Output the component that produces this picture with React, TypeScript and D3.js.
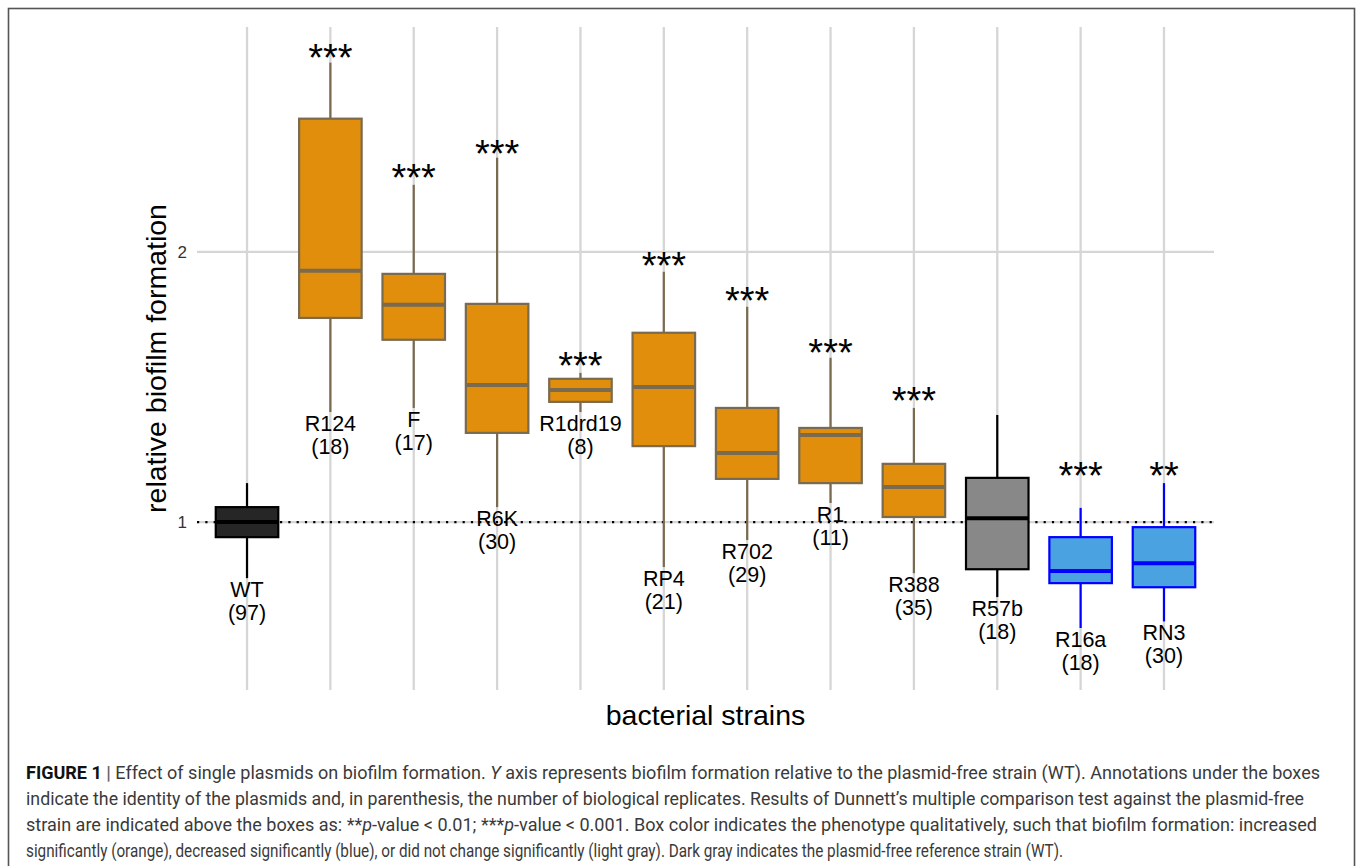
import React from "react";
import * as d3 from "d3";

// ---- data ----
const strains = ["WT", "R124", "F", "R6K", "R1drd19", "RP4", "R702", "R1", "R388", "R57b", "R16a", "RN3"];
const replicates = [97, 18, 17, 30, 8, 21, 29, 11, 35, 18, 18, 30];
const whiskerHigh = [1.105, 3.249, 2.375, 2.546, 1.466, 1.9, 1.737, 1.524, 1.34, 1.316, 1.037, 1.105];
const upperQuartile = [1.039, 2.814, 1.89, 1.75, 1.444, 1.625, 1.34, 1.273, 1.161, 1.12, 0.962, 0.987];
const medians = [1.0, 1.905, 1.746, 1.421, 1.403, 1.414, 1.194, 1.25, 1.094, 1.01, 0.882, 0.9];
const lowerQuartile = [0.962, 1.688, 1.596, 1.257, 1.361, 1.215, 1.117, 1.105, 1.013, 0.886, 0.855, 0.846];
const whiskerLow = [0.866, 1.326, 1.34, 1.039, 1.326, 0.891, 0.955, 1.05, 0.877, 0.825, 0.762, 0.775];
const significance = ["", "***", "***", "***", "***", "***", "***", "***", "***", "", "***", "**"];
const starLevel = [NaN, 3.36, 2.469, 2.626, 1.524, 1.969, 1.8, 1.579, 1.393, NaN, 1.149, 1.149];
const phenotype = ["reference", "increased", "increased", "increased", "increased", "increased", "increased", "increased", "increased", "unchanged", "decreased", "decreased"];
const yTicks = [1, 2];
const yExtent = [0.65, 3.56];
const referenceLevel = 1;

const captionLines = [
  [
    { t: "FIGURE 1 ", b: true },
    { t: "| ", b: true, c: "#666" },
    { t: "Effect of single plasmids on biofilm formation. " },
    { t: "Y", i: true },
    { t: " axis represents biofilm formation relative to the plasmid-free strain (WT). Annotations under the boxes" },
  ],
  [{ t: "indicate the identity of the plasmids and, in parenthesis, the number of biological replicates. Results of Dunnett\u2019s multiple comparison test against the plasmid-free" }],
  [
    { t: "strain are indicated above the boxes as: **" },
    { t: "p", i: true },
    { t: "-value < 0.01; ***" },
    { t: "p", i: true },
    { t: "-value < 0.001. Box color indicates the phenotype qualitatively, such that biofilm formation: increased" },
  ],
  [{ t: "significantly (orange), decreased significantly (blue), or did not change significantly (light gray). Dark gray indicates the plasmid-free reference strain (WT)." }],
];
const captionWidths = [1294, 1278, 1291, 1037];

const palette: Record<string, { fill: string; stroke: string }> = {
  reference: { fill: "#262626", stroke: "#000000" },
  increased: { fill: "#E08E0B", stroke: "#7A6A4F" },
  unchanged: { fill: "#888888", stroke: "#000000" },
  decreased: { fill: "#4AA3E0", stroke: "#0000FF" },
};

const FONT = "'Liberation Sans', Arial, Helvetica, sans-serif";

export default function App() {
  const W = 1358, H = 866;
  const panel = { left: 197, right: 1214, top: 27, bottom: 690 };
  const x = d3.scalePoint<string>().domain(strains).range([panel.left, panel.right]).padding(0.6);
  const y = d3.scaleLog().base(2).domain(yExtent).range([panel.bottom, panel.top]);
  const bw = x.step() * 0.75;
  const starSize = 38;
  const labelSize = 21.5;

  return (
    <svg width={W} height={H} style={{ position: "absolute", left: 0, top: 0, background: "#fff" }} fontFamily={FONT}>
      <rect x={0} y={0} width={W} height={H} fill="#fff" />
      <rect x={8.5} y={8.5} width={1346} height={900} fill="none" stroke="#555" strokeWidth={1.6} />

      {/* grid */}
      {strains.map((s) => (
        <line key={"gx" + s} x1={x(s)} x2={x(s)} y1={panel.top} y2={panel.bottom} stroke="#d6d6d6" strokeWidth={2.3} />
      ))}
      {yTicks.map((t) => (
        <line key={"gy" + t} x1={panel.left} x2={panel.right} y1={y(t)} y2={y(t)} stroke="#d6d6d6" strokeWidth={2.3} />
      ))}
      {yTicks.map((t) => (
        <text key={"yt" + t} x={187} y={y(t) + 6} textAnchor="end" fontSize={17} fill="#333">
          {d3.format("d")(t)}
        </text>
      ))}

      {/* reference line */}
      <line x1={panel.left} x2={panel.right} y1={y(referenceLevel)} y2={y(referenceLevel)} stroke="#000" strokeWidth={2.2} strokeDasharray="2.2,6.1" />

      {/* boxes */}
      {strains.map((s, i) => {
        const cx = x(s) as number;
        const col = palette[phenotype[i]];
        return (
          <g key={"b" + s}>
            <line x1={cx} x2={cx} y1={y(whiskerHigh[i])} y2={y(upperQuartile[i])} stroke={col.stroke} strokeWidth={2.2} />
            <line x1={cx} x2={cx} y1={y(lowerQuartile[i])} y2={y(whiskerLow[i])} stroke={col.stroke} strokeWidth={2.2} />
            <rect x={cx - bw / 2} y={y(upperQuartile[i])} width={bw} height={y(lowerQuartile[i]) - y(upperQuartile[i])} fill={col.fill} stroke={col.stroke} strokeWidth={2.2} />
            <line x1={cx - bw / 2} x2={cx + bw / 2} y1={y(medians[i])} y2={y(medians[i])} stroke={col.stroke} strokeWidth={4} />
          </g>
        );
      })}

      {/* significance */}
      {strains.map((s, i) =>
        significance[i] ? (
          <text key={"st" + s} x={x(s)} y={y(starLevel[i]) + 0.568 * starSize} textAnchor="middle" fontSize={starSize} fill="#000">
            {significance[i]}
          </text>
        ) : null
      )}

      {/* labels */}
      {strains.map((s, i) => (
        <text key={"lb" + s} x={x(s)} y={y(whiskerLow[i]) + 19} textAnchor="middle" fontSize={labelSize} fill="#000">
          <tspan x={x(s)}>{s}</tspan>
          <tspan x={x(s)} dy={23}>{"(" + replicates[i] + ")"}</tspan>
        </text>
      ))}

      {/* axis titles */}
      <text x={(panel.left + panel.right) / 2} y={725} textAnchor="middle" fontSize={28.5} fill="#000">
        bacterial strains
      </text>
      <text transform={`translate(166,${(panel.top + panel.bottom) / 2}) rotate(-90)`} textAnchor="middle" fontSize={28.5} fill="#000">
        relative biofilm formation
      </text>

      {/* caption */}
      {captionLines.map((line, li) => (
        <text
          key={"cap" + li}
          x={26}
          y={778.5 + li * 26.3}
          fontSize={17.5}
          fill="#3a3a3a"
          fontFamily="'Liberation Sans Narrow', 'Roboto', 'Liberation Sans', sans-serif"
          textLength={captionWidths[li]}
          lengthAdjust="spacingAndGlyphs"
        >
          {line.map((seg: any, si: number) => (
            <tspan key={si} fontWeight={seg.b ? "bold" : "normal"} fontStyle={seg.i ? "italic" : "normal"} fill={seg.c ? seg.c : seg.b ? "#111" : undefined}>
              {seg.t}
            </tspan>
          ))}
        </text>
      ))}
    </svg>
  );
}
